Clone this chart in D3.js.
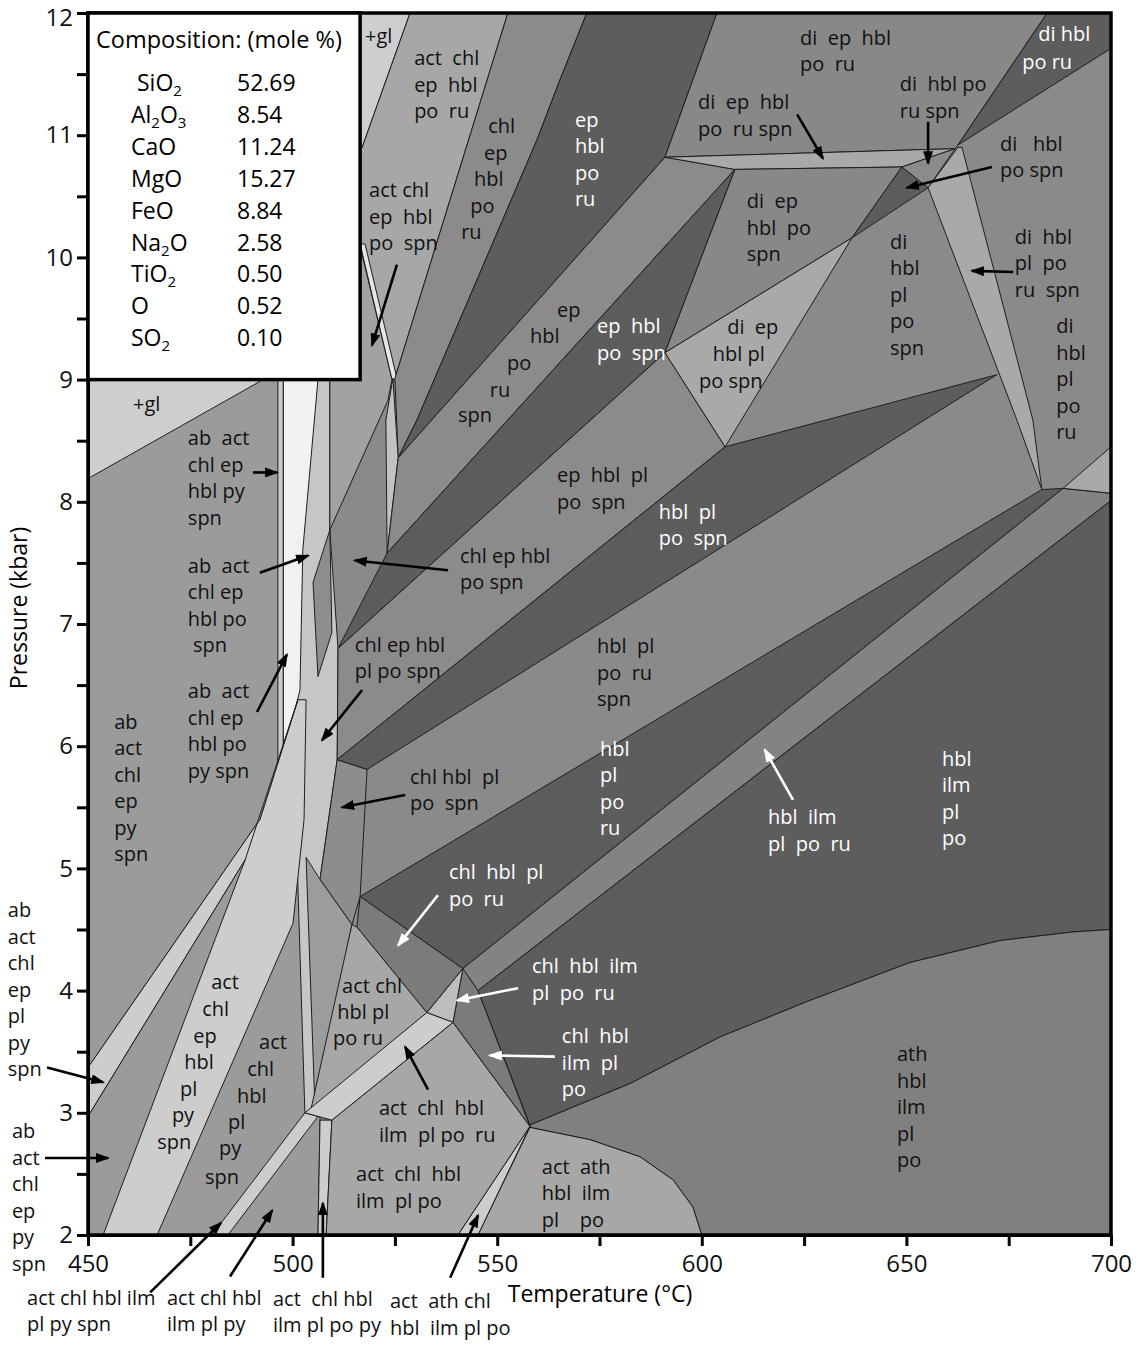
<!DOCTYPE html>
<html>
<head>
<meta charset="utf-8">
<script src="https://cdn.jsdelivr.net/npm/d3@7"></script>
<style>
body { margin: 0; background: #fff; }
text { font-family: "Open Sans", sans-serif; white-space: pre; }
</style>
</head>
<body>
<svg id="chart" width="1140" height="1347"></svg>
<script>
// DATA //
var tempTicks = d3.range(450, 701, 25);
var presTicks = d3.range(2, 12.01, 0.5);
var oxides = ["SiO2", "Al2O3", "CaO", "MgO", "FeO", "Na2O", "TiO2", "O", "SO2"];
var moles = ["52.69", "8.54", "11.24", "15.27", "8.84", "2.58", "0.50", "0.52", "0.10"];

// stability fields as [T (°C), P (kbar)] outlines, painted in this order
var fields = [
    {id: "leftBig", pts: [[450,9],[497.7,9],[497.7,5.85],[501.8,5.89],[503.0,5.09],[506.7,2.94],[506.2,2],[450,2]]},
    {id: "centralLight", pts: [[497.7,9],[509.1,9],[509.1,7.77],[511.1,6.80],[510.9,5.89],[506.7,4.91],[505.5,3.00],[503.0,3.00],[500.8,5.40],[497.7,5.85]]},
    {id: "whiteStrip", pts: [[497.7,9],[506.2,9],[502.5,7.61],[501.8,6.46],[499.4,6.13],[497.7,5.85]]},
    {id: "t1", pts: [[505.0,7.34],[509.1,7.77],[509.6,6.93],[506.2,6.57]]},
    {id: "thinDbl", pts: [[496.4,9],[497.7,9],[497.7,5.85],[496.4,5.85]]},
    {id: "glLow", pts: [[450,9],[492.8,9],[450,8.19]]},
    {id: "bandL", pts: [[450,3.37],[492.0,5.40],[501.3,6.38],[503.3,6.38],[502.8,5.40],[500.1,4.55],[466.9,2],[450,2]]},
    {id: "band4", pts: [[450,3.37],[492.0,5.40],[501.3,6.38],[488.4,5.07],[450,2.97]]},
    {id: "wedge", pts: [[450,2.97],[488.4,5.07],[453.7,2],[450,2]]},
    {id: "lthin", pts: [[480.3,2],[503.0,3.00],[506.2,2.97],[484.2,2]]},
    {id: "poPy", pts: [[506.7,2.94],[509.6,2.94],[508.2,2],[506.2,2]]},
    {id: "chps", pts: [[510.9,5.89],[518.2,5.81],[516.5,4.77],[514.5,4.54],[506.7,4.91]]},
    {id: "triX", pts: [[503.3,5.09],[506.7,4.91],[514.5,4.54],[505.5,3.00]]},
    {id: "glTop", pts: [[516.5,12],[528.7,12],[517.0,10.90],[516.5,10.88]]},
    {id: "actRu", pts: [[528.7,12],[552.6,12],[525.0,9.01],[517.0,10.09],[516.5,10.09],[516.5,10.88],[517.0,10.90]]},
    {id: "actSpn", pts: [[509.1,9.00],[516.5,9.00],[516.5,10.09],[524.3,9.00],[523.3,8.83],[509.1,7.77]]},
    {id: "sliver1", pts: [[516.5,10.11],[517.7,10.11],[525.5,9.01],[524.3,9.00]]},
    {id: "chlRu", pts: [[552.6,12],[571.9,12],[565.3,11.45],[559.7,10.96],[530.4,8.67],[525.8,8.36],[525.0,9.01]]},
    {id: "dark1", pts: [[571.9,12],[603.7,12],[591.0,10.82],[525.8,8.36],[530.4,8.67],[559.7,10.96],[565.3,11.45]]},
    {id: "t2", pts: [[524.5,9.01],[525.8,8.36],[523.1,7.58],[522.8,8.67]]},
    {id: "ruSpn", pts: [[591.0,10.82],[608.1,10.72],[523.1,7.58],[525.8,8.36]]},
    {id: "dark2", pts: [[608.1,10.72],[591.0,9.22],[511.1,6.80],[523.1,7.58]]},
    {id: "epPl", pts: [[591.0,9.22],[605.7,8.45],[510.9,5.89],[511.1,6.80]]},
    {id: "topDi", pts: [[603.7,12],[684.4,12],[662.6,10.92],[661.9,10.89],[591.0,10.82]]},
    {id: "darkDiRu", pts: [[684.4,12],[700,12],[700,11.71],[662.6,10.92]]},
    {id: "stripTop", pts: [[591.0,10.82],[661.9,10.89],[648.9,10.74],[608.1,10.72]]},
    {id: "diEpSpn", pts: [[608.1,10.72],[648.9,10.74],[636.7,10.16],[591.0,9.22]]},
    {id: "lightTri", pts: [[591.0,9.22],[636.7,10.16],[605.7,8.45]]},
    {id: "darkSmall", pts: [[648.9,10.74],[655.3,10.57],[636.7,10.16]]},
    {id: "smallGray", pts: [[648.9,10.74],[661.9,10.89],[655.3,10.57]]},
    {id: "lstrip", pts: [[662.6,10.90],[663.6,10.90],[680.9,8.67],[683.1,8.10],[677.0,8.67],[655.3,10.57]]},
    {id: "dark3", pts: [[510.9,5.89],[605.7,8.45],[672.1,9.04],[518.2,5.81]]},
    {id: "dark4", pts: [[516.5,4.77],[683.1,8.10],[688.3,8.11],[541.6,4.18]]},
    {id: "bandIlmRu", pts: [[541.6,4.18],[688.3,8.11],[700,8.07],[700,8.01],[545.3,4.00]]},
    {id: "lightTri2", pts: [[688.3,8.11],[700,8.45],[700,8.07]]},
    {id: "dark5", pts: [[545.3,4.00],[700,8.01],[700,4.50],[690.7,4.48],[672.9,4.41],[650.9,4.23],[625.7,3.91],[604.4,3.62],[582.5,3.24],[558.0,2.90]]},
    {id: "ath", pts: [[558.0,2.90],[582.5,3.24],[604.4,3.62],[625.7,3.91],[650.9,4.23],[672.9,4.41],[690.7,4.48],[700,4.50],[700,2],[600.0,2],[597.8,2.23],[593.0,2.45],[584.9,2.64],[572.7,2.78],[558.0,2.88]]},
    {id: "actAth", pts: [[558.0,2.88],[572.7,2.78],[584.9,2.64],[593.0,2.45],[597.8,2.23],[600.0,2],[545.3,2]]},
    {id: "sliverAth", pts: [[558.0,2.89],[540.4,2],[545.3,2]]},
    {id: "actIlmPo", pts: [[509.6,2.94],[539.2,3.74],[558.0,2.89],[540.4,2],[508.2,2]]},
    {id: "chlIlmPo", pts: [[539.2,3.74],[541.6,4.18],[545.3,4.00],[558.0,2.89]]},
    {id: "chlIlmRu", pts: [[532.8,3.82],[541.6,4.18],[539.2,3.74]]},
    {id: "chlRuMed", pts: [[515.7,4.52],[516.5,4.77],[541.6,4.18],[532.8,3.82]]},
    {id: "actPlPoRu", pts: [[514.5,4.54],[515.7,4.52],[532.8,3.82],[504.3,3.00]]},
    {id: "lband", pts: [[503.0,3.00],[532.8,3.82],[539.2,3.74],[509.6,2.94]]}
];

// assemblage labels, anchored at [T, P] of the first line
var labels = [
    {at: [517.7, 11.80], lines: ["+gl"]},
    {at: [461.0, 8.79], lines: ["+gl"]},
    {at: [529.7, 11.62], lines: ["act  chl", "ep  hbl", "po  ru"]},
    {at: [547.8, 11.07], lines: ["chl"]}, {at: [546.8, 10.85], lines: ["ep"]}, {at: [544.3, 10.63], lines: ["hbl"]},
    {at: [543.4, 10.41], lines: ["po"]}, {at: [541.2, 10.20], lines: ["ru"]},
    {at: [518.7, 10.54], lines: ["act chl", "ep  hbl", "po  spn"]},
    {at: [564.6, 9.56], lines: ["ep"]}, {at: [558.0, 9.35], lines: ["hbl"]}, {at: [552.4, 9.13], lines: ["po"]},
    {at: [548.2, 8.91], lines: ["ru"]}, {at: [540.4, 8.70], lines: ["spn"]},
    {at: [599.1, 11.26], lines: ["di  ep  hbl", "po  ru spn"]},
    {at: [624.0, 11.79], lines: ["di  ep  hbl", "po  ru"]},
    {at: [611.0, 10.45], lines: ["di  ep", "hbl  po", "spn"]},
    {at: [606.2, 9.42], lines: ["di  ep"]}, {at: [602.7, 9.20], lines: ["hbl pl"]}, {at: [599.3, 8.98], lines: ["po spn"]},
    {at: [648.4, 11.41], lines: ["di  hbl po", "ru spn"]},
    {at: [672.9, 10.92], lines: ["di   hbl", "po spn"]},
    {at: [646.0, 10.12], lines: ["di", "hbl", "pl", "po", "spn"]},
    {at: [676.5, 10.16], lines: ["di  hbl", "pl  po", "ru  spn"]},
    {at: [686.6, 9.43], lines: ["di", "hbl", "pl", "po", "ru"]},
    {at: [474.4, 8.51], lines: ["ab  act", "chl ep", "hbl py", "spn"]},
    {at: [474.4, 7.47], lines: ["ab  act", "chl ep", "hbl po", " spn"]},
    {at: [474.4, 6.44], lines: ["ab  act", "chl ep", "hbl po", "py spn"]},
    {at: [456.4, 6.19], lines: ["ab", "act", "chl", "ep", "py", "spn"]},
    {at: [430.4, 4.65], lines: ["ab", "act", "chl", "ep", "pl", "py", "spn"]},
    {at: [431.4, 2.84], lines: ["ab", "act", "chl", "ep", "py", "spn"]},
    {at: [480.1, 4.06], lines: ["act"]}, {at: [477.9, 3.84], lines: ["chl"]}, {at: [475.7, 3.62], lines: ["ep"]},
    {at: [473.5, 3.41], lines: ["hbl"]}, {at: [472.5, 3.19], lines: ["pl"]}, {at: [470.5, 2.97], lines: ["py"]},
    {at: [466.9, 2.75], lines: ["spn"]},
    {at: [491.8, 3.57], lines: ["act"]}, {at: [488.9, 3.35], lines: ["chl"]}, {at: [486.4, 3.13], lines: ["hbl"]},
    {at: [484.2, 2.92], lines: ["pl"]}, {at: [482.0, 2.70], lines: ["py"]}, {at: [478.6, 2.47], lines: ["spn"]},
    {at: [435.1, 1.48], lines: ["act chl hbl ilm", "pl py spn"]},
    {at: [469.3, 1.48], lines: ["act chl hbl", "ilm pl py"]},
    {at: [495.2, 1.47], lines: ["act  chl hbl", "ilm pl po py"]},
    {at: [523.8, 1.45], lines: ["act  ath chl", "hbl  ilm pl po"]},
    {at: [512.1, 4.03], lines: ["act chl"]}, {at: [510.9, 3.82], lines: ["hbl pl"]}, {at: [509.9, 3.60], lines: ["po ru"]},
    {at: [521.1, 3.03], lines: ["act  chl  hbl", "ilm  pl po  ru"]},
    {at: [515.5, 2.49], lines: ["act  chl  hbl", "ilm  pl po"]},
    {at: [560.9, 2.55], lines: ["act  ath", "hbl  ilm", "pl    po"]},
    {at: [647.7, 3.47], lines: ["ath", "hbl", "ilm", "pl", "po"]},
    {at: [574.4, 6.81], lines: ["hbl  pl", "po  ru", "spn"]},
    {at: [564.6, 8.21], lines: ["ep  hbl  pl", "po  spn"]},
    {at: [540.9, 7.55], lines: ["chl ep hbl", "po spn"]},
    {at: [515.2, 6.82], lines: ["chl ep hbl", "pl po spn"]},
    {at: [528.7, 5.74], lines: ["chl hbl  pl", "po  spn"]}
];
var whiteLabels = [
    {at: [569.0, 11.12], lines: ["ep", "hbl", "po", "ru"]},
    {at: [574.4, 9.43], lines: ["ep  hbl", "po  spn"]},
    {at: [682.2, 11.82], lines: ["di hbl"]}, {at: [678.3, 11.59], lines: ["po ru"]},
    {at: [538.2, 4.96], lines: ["chl  hbl  pl", "po  ru"]},
    {at: [558.5, 4.19], lines: ["chl  hbl  ilm", "pl  po  ru"]},
    {at: [565.8, 3.62], lines: ["chl  hbl", "ilm  pl", "po"]},
    {at: [658.7, 5.89], lines: ["hbl", "ilm", "pl", "po"]},
    {at: [616.2, 5.41], lines: ["hbl  ilm", "pl  po  ru"]},
    {at: [575.1, 5.97], lines: ["hbl", "pl", "po", "ru"]},
    {at: [589.5, 7.91], lines: ["hbl  pl", "po  spn"]}
];

// pointer arrows [from, to] in [T, P]
var arrows = [
    [[490.3, 8.24], [496.2, 8.24]], [[492.0, 7.42], [503.8, 7.56]], [[491.3, 6.28], [498.6, 6.75]],
    [[525.5, 9.94], [519.4, 9.28]], [[623.3, 11.17], [629.6, 10.81]], [[655.3, 11.11], [655.3, 10.77]],
    [[670.9, 10.74], [650.1, 10.57]], [[676.1, 9.88], [666.0, 9.89]], [[538.0, 7.44], [515.2, 7.52]],
    [[517.0, 6.46], [507.2, 6.05]], [[527.5, 5.60], [512.1, 5.50]], [[533.1, 3.19], [527.5, 3.54]],
    [[440.0, 3.37], [453.7, 3.25]], [[439.5, 2.63], [454.9, 2.63]], [[465.2, 1.53], [482.5, 2.10]],
    [[484.7, 1.66], [495.0, 2.20]], [[507.4, 1.65], [507.4, 2.26]], [[538.5, 1.65], [545.3, 2.16]]
];
var whiteArrows = [
    [[535.5, 4.78], [525.8, 4.37]], [[555.1, 4.02], [540.2, 3.92]], [[564.1, 3.46], [548.2, 3.47]],
    [[622.3, 5.56], [615.4, 5.97]]
];

// STYLES //
var fieldFill = {
    leftBig: "#9b9b9b", centralLight: "#c6c6c6", whiteStrip: "#f1f1f1", t1: "#8e8e8e", thinDbl: "#cacaca",
    glLow: "#cecece", bandL: "#cdcdcd", band4: "#cdcdcd", wedge: "#9b9b9b", lthin: "#cdcdcd", poPy: "#cdcdcd",
    chps: "#8d8d8d", triX: "#9c9c9c", glTop: "#cecece", actRu: "#a7a7a7", actSpn: "#a2a2a2", sliver1: "#e6e6e6",
    chlRu: "#8b8b8b", dark1: "#5d5d5d", t2: "#c2c2c2", ruSpn: "#8b8b8b", dark2: "#5d5d5d", epPl: "#8b8b8b",
    topDi: "#888888", darkDiRu: "#5d5d5d", stripTop: "#a9a9a9", diEpSpn: "#888888", lightTri: "#a9a9a9",
    darkSmall: "#5d5d5d", smallGray: "#8b8b8b", lstrip: "#a9a9a9", dark3: "#5d5d5d", dark4: "#5d5d5d",
    bandIlmRu: "#838383", lightTri2: "#a9a9a9", dark5: "#5d5d5d", ath: "#808080", actAth: "#a7a7a7",
    sliverAth: "#cdcdcd", actIlmPo: "#a7a7a7", chlIlmPo: "#7b7b7b", chlIlmRu: "#bdbdbd", chlRuMed: "#7b7b7b",
    actPlPoRu: "#a7a7a7", lband: "#cdcdcd"
};
var lineGap = 26.5;

// CHART //
var svg = d3.select("#chart");
var x = d3.scaleLinear().domain([450, 700]).range([88, 1111]);
var y = d3.scaleLinear().domain([2, 12]).range([1235, 13]);

var defs = svg.append("defs");
defs.append("clipPath").attr("id", "plot")
    .append("rect").attr("x", x(450)).attr("y", y(12)).attr("width", x(700) - x(450)).attr("height", y(2) - y(12));
[["headB", "#000"], ["headW", "#fff"]].forEach(function(m) {
    defs.append("marker").attr("id", m[0]).attr("viewBox", "0 0 14 10").attr("refX", 12).attr("refY", 5)
        .attr("markerWidth", 14).attr("markerHeight", 10).attr("markerUnits", "userSpaceOnUse").attr("orient", "auto")
        .append("path").attr("d", "M0,0L14,5L0,10Z").attr("fill", m[1]);
});

var plot = svg.append("g").attr("clip-path", "url(#plot)");
plot.append("rect").attr("x", x(450)).attr("y", y(12)).attr("width", x(700) - x(450)).attr("height", y(2) - y(12))
    .attr("fill", "#8a8a8a");

var outline = d3.line().x(function(d) { return x(d[0]); }).y(function(d) { return y(d[1]); });
plot.selectAll("path.field").data(fields).join("path")
    .attr("class", "field")
    .attr("d", function(d) { return outline(d.pts) + "Z"; })
    .attr("fill", function(d) { return fieldFill[d.id]; })
    .attr("stroke", "#1e1e1e").attr("stroke-width", 1).attr("stroke-linejoin", "round");

// axes
var yAxis = d3.axisLeft(y).tickValues(presTicks).tickSize(11).tickSizeOuter(0).tickPadding(4)
    .tickFormat(function(d) { return d % 1 === 0 ? d : ""; });
var xAxis = d3.axisBottom(x).tickValues(tempTicks).tickSize(11).tickSizeOuter(0).tickPadding(9)
    .tickFormat(function(d) { return d % 50 === 0 ? d : ""; });
var ga = svg.append("g").attr("transform", "translate(" + x(450) + ",0)").call(yAxis);
var gb = svg.append("g").attr("transform", "translate(0," + y(2) + ")").call(xAxis);
[ga, gb].forEach(function(g) {
    g.selectAll("line").attr("stroke-width", 3);
    g.select(".domain").attr("stroke-width", 3);
    g.selectAll("text").style("font-size", "24px").attr("fill", "#111");
});
// keep the top label inside the page
ga.selectAll(".tick text").filter(function(d) { return d === 12; }).attr("dy", "0.5em");
svg.append("rect").attr("x", x(450)).attr("y", y(12)).attr("width", x(700) - x(450)).attr("height", y(2) - y(12))
    .attr("fill", "none").attr("stroke", "#000").attr("stroke-width", 3.5);

svg.append("text").attr("transform", "translate(27,608) rotate(-90)").attr("text-anchor", "middle")
    .style("font-size", "23px").text("Pressure (kbar)");
svg.append("text").attr("x", 600).attr("y", 1302).attr("text-anchor", "middle")
    .style("font-size", "23px").text("Temperature (°C)");

// arrows
function drawArrows(list, color, head) {
    svg.append("g").selectAll("line").data(list).join("line")
        .attr("x1", function(d) { return x(d[0][0]); }).attr("y1", function(d) { return y(d[0][1]); })
        .attr("x2", function(d) { return x(d[1][0]); }).attr("y2", function(d) { return y(d[1][1]); })
        .attr("stroke", color).attr("stroke-width", 2.6).attr("marker-end", "url(#" + head + ")");
}
drawArrows(arrows, "#000", "headB");
drawArrows(whiteArrows, "#fff", "headW");

// labels
function drawLabels(list, color) {
    list.forEach(function(d) {
        var t = svg.append("text").attr("y", y(d.at[1]) + 6).attr("fill", color).style("font-size", "20px");
        d.lines.forEach(function(s, i) {
            t.append("tspan").attr("x", x(d.at[0])).attr("dy", i ? lineGap : 0).text(s);
        });
    });
}
drawLabels(labels, "#111");
drawLabels(whiteLabels, "#fff");

// composition box
var box = svg.append("g");
box.append("rect").attr("x", x(450)).attr("y", y(12)).attr("width", x(516.5) - x(450)).attr("height", y(9) - y(12))
    .attr("fill", "#fff").attr("stroke", "#000").attr("stroke-width", 3.5);
box.append("text").attr("x", 96).attr("y", 48).style("font-size", "23.5px").text("Composition: (mole %)");
oxides.forEach(function(ox, i) {
    var rowY = 91 + i * 31.9;
    var t = box.append("text").attr("x", i === 0 ? 137 : 131).attr("y", rowY).style("font-size", "23px");
    var shift = 0;
    ox.split(/(\d)/).forEach(function(part) {
        if (!part) return;
        var sub = /\d/.test(part);
        t.append("tspan").attr("dy", (sub ? 5 : 0) - shift).style("font-size", sub ? "15px" : null).text(part);
        shift = sub ? 5 : 0;
    });
    box.append("text").attr("x", 237).attr("y", rowY).style("font-size", "23px").text(moles[i]);
});
</script>
</body>
</html>
